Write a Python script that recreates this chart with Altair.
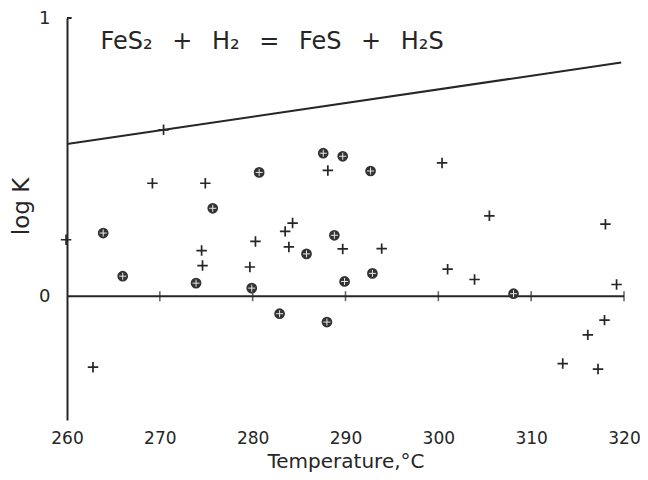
import altair as alt
import pandas as pd

# ---- data ----
plus_T = [259.9, 262.8, 269.2, 270.4, 274.5, 274.6, 274.9, 279.7, 280.3, 283.5,
          283.9, 284.3, 288.1, 289.7, 293.9, 300.4, 301.0, 303.9, 305.5, 313.4,
          316.1, 317.2, 317.9, 318.0, 319.2]
plus_logK = [0.203, -0.255, 0.406, 0.598, 0.164, 0.110, 0.406, 0.105, 0.197, 0.233,
             0.177, 0.263, 0.452, 0.170, 0.171, 0.479, 0.097, 0.060, 0.289, -0.242,
             -0.139, -0.262, -0.086, 0.259, 0.042]

circ_T = [263.9, 266.0, 273.9, 275.7, 279.9, 280.7, 282.9, 285.8, 287.6, 288.0,
          288.8, 289.7, 289.9, 292.7, 292.9, 308.1]
circ_logK = [0.227, 0.072, 0.047, 0.316, 0.029, 0.445, -0.063, 0.152, 0.514, -0.093,
             0.219, 0.503, 0.053, 0.450, 0.082, 0.009]

upper_T = [260, 319.7]
upper_logK = [0.547, 0.840]

zero_T = [260, 320]
zero_logK = [0, 0]

tick_T = [270, 280, 290, 300, 310, 320]
tick_logK = [0, 0, 0, 0, 0, 0]

x_label_values = [260, 270, 280, 290, 300, 310, 320]
y_label_values = [0, 1]

eq_T = [263.6]
eq_logK = [0.887]
eq_text = ["FeS\u2082 \u2002+ \u2002H\u2082 \u2002= \u2002FeS \u2002+ \u2002H\u2082S"]

FONT = "DejaVu Sans"
INK = "#262626"

plus_df = pd.DataFrame({"T": plus_T, "logK": plus_logK})
circ_df = pd.DataFrame({"T": circ_T, "logK": circ_logK})
upper_df = pd.DataFrame({"T": upper_T, "logK": upper_logK})
zero_df = pd.DataFrame({"T": zero_T, "logK": zero_logK})
tick_df = pd.DataFrame({"T": tick_T, "logK": tick_logK})
eq_df = pd.DataFrame({"T": eq_T, "logK": eq_logK, "label": eq_text})

x_enc = alt.X(
    "T:Q",
    scale=alt.Scale(domain=[260, 320], nice=False, zero=False),
    axis=alt.Axis(
        values=x_label_values, format="d", title="Temperature,\u00b0C",
        domain=False, ticks=False, grid=False, labelFlush=False, labelOverlap=False,
        labelFont=FONT, labelFontSize=17, labelColor=INK, labelPadding=10,
        titleFont=FONT, titleFontSize=20, titleFontWeight="normal", titleColor=INK,
        titlePadding=5,
    ),
)
y_enc = alt.Y(
    "logK:Q",
    scale=alt.Scale(domain=[-0.445, 1.0], nice=False, zero=False),
    axis=alt.Axis(
        values=y_label_values, format="d", title="log K",
        ticks=False, grid=False, domainColor=INK, domainWidth=2,
        labelFlush=False, labelOverlap=False,
        labelFont=FONT, labelFontSize=18, labelColor=INK, labelPadding=17,
        titleFont=FONT, titleFontSize=23, titleFontWeight="normal", titleColor=INK,
        titlePadding=5, titleY=188,
    ),
)

PLUS = "M-1,0L1,0M0,-1L0,1"

zero_line = alt.Chart(zero_df).mark_line(color=INK, strokeWidth=2).encode(x=x_enc, y=y_enc)
upper_line = alt.Chart(upper_df).mark_line(color=INK, strokeWidth=2).encode(x=x_enc, y=y_enc)
ticks = alt.Chart(tick_df).mark_tick(orient="vertical", color=INK, size=10, thickness=1.6).encode(x=x_enc, y=y_enc)
top_tick = alt.Chart(zero_df.head(1)).mark_rule(color=INK, strokeWidth=2).encode(
    x=alt.datum(260), x2=alt.datum(260.5), y=alt.datum(1)
)
plus_pts = alt.Chart(plus_df).mark_point(
    shape=PLUS, size=110, filled=False, color=INK, strokeWidth=1.7, opacity=1
).encode(x=x_enc, y=y_enc)
circ_pts = alt.Chart(circ_df).mark_point(
    shape="circle", size=115, filled=True, color="#333333", opacity=1
).encode(x=x_enc, y=y_enc)
circ_plus = alt.Chart(circ_df).mark_point(
    shape=PLUS, size=50, filled=False, color="#e8e8e8", strokeWidth=1, opacity=1
).encode(x=x_enc, y=y_enc)
eq = alt.Chart(eq_df).mark_text(
    align="left", baseline="alphabetic", font=FONT, fontSize=24, color=INK
).encode(x=x_enc, y=y_enc, text="label:N")

chart = alt.layer(
    zero_line, upper_line, ticks, top_tick, plus_pts, circ_pts, circ_plus, eq
).properties(
    width=557, height=402,
    autosize=alt.AutoSizeParams(type="none"),
    padding={"left": 59, "top": 10, "right": 16, "bottom": 52},
    background="white",
).configure_view(stroke=None)

chart.save("out.html", embed_options={"renderer": "svg", "actions": False})
